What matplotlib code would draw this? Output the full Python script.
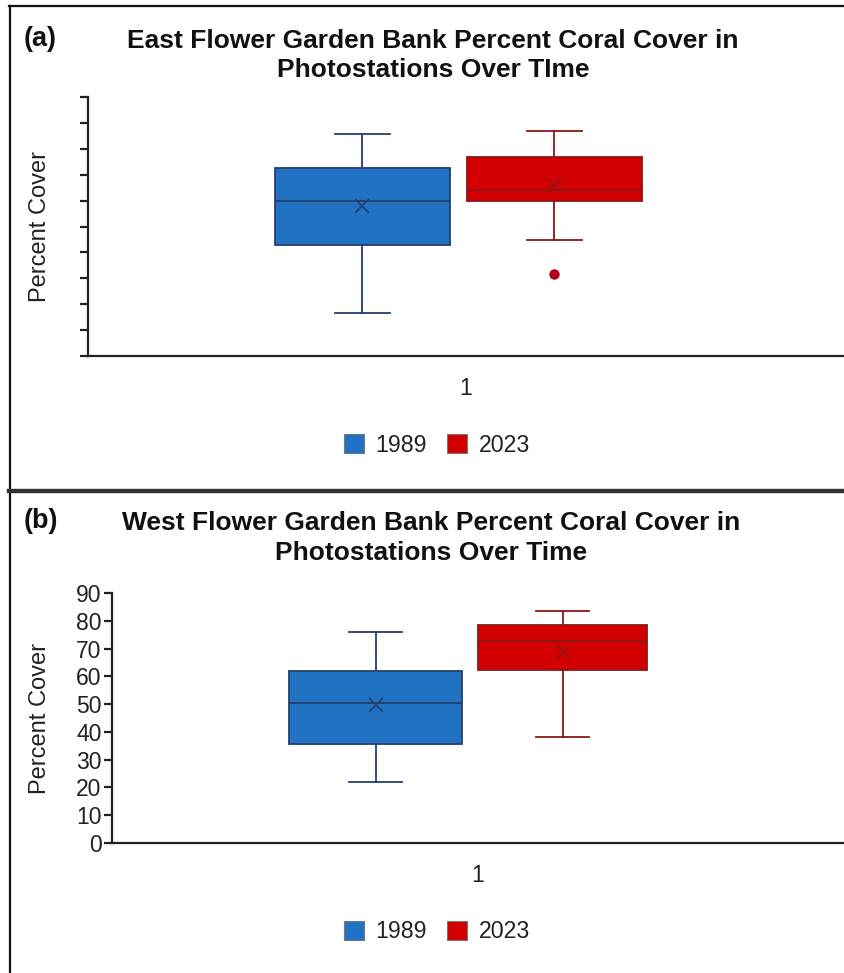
import matplotlib.pyplot as plt
from matplotlib.lines import Line2D
from matplotlib.patches import Patch

plt.rcParams['font.family'] = ['Liberation Sans', 'DejaVu Sans']

# legend / series
years = ["1989", "2023"]
box_colors = ["#2272C3", "#D20000"]
edge_colors = ["#24406E", "#8E1616"]

# East bank (panel a) - box stats (axis has no labels, 0-100 assumed)
east_low = [16.6, 44.8]
east_q1 = [42.9, 59.8]
east_med = [59.8, 64.1]
east_q3 = [72.6, 76.8]
east_high = [85.7, 86.9]
east_mean = [57.9, 66.0]
east_fliers = [[], [31.7]]

# West bank (panel b)
west_low = [21.9, 38.1]
west_q1 = [35.6, 62.2]
west_med = [50.4, 72.7]
west_q3 = [61.9, 78.4]
west_high = [75.9, 83.5]
west_mean = [49.6, 68.7]
west_fliers = [[], []]


def make_stats(low, q1, med, q3, high, mean, fliers):
    stats = []
    for i in range(len(low)):
        stats.append(dict(whislo=low[i], q1=q1[i], med=med[i], q3=q3[i],
                          whishi=high[i], mean=mean[i], fliers=fliers[i],
                          label=years[i]))
    return stats


def draw_panel(ax, stats, positions, widths, ymax, step):
    for i, st in enumerate(stats):
        ax.bxp([st], positions=[positions[i]], widths=[widths[i]],
               capwidths=[0.145], patch_artist=True, showmeans=True,
               boxprops=dict(facecolor=box_colors[i], edgecolor=edge_colors[i], linewidth=1.3),
               medianprops=dict(color=edge_colors[i], linewidth=1.3),
               whiskerprops=dict(color=edge_colors[i], linewidth=1.3),
               capprops=dict(color=edge_colors[i], linewidth=1.3),
               meanprops=dict(marker='x', markeredgecolor=edge_colors[i],
                              markersize=10, markeredgewidth=1.2),
               flierprops=dict(marker='o', markerfacecolor="#B0001E",
                               markeredgecolor="#B0001E", markersize=6.5))
    ax.set_xlim(0, 2)
    ax.set_ylim(0, ymax)
    ax.set_yticks(range(0, ymax + 1, step))
    ax.set_xticks([1])
    ax.set_xticklabels(["1"])
    for s in ["top", "right"]:
        ax.spines[s].set_visible(False)
    for s in ["left", "bottom"]:
        ax.spines[s].set_linewidth(1.6)
        ax.spines[s].set_color("#222222")
    ax.tick_params(axis='x', length=0, pad=15, labelsize=16.5, colors="#222222")
    ax.tick_params(axis='y', length=5.5, width=1.6, color="#222222", labelsize=16.5,
                   labelcolor="#222222", pad=2)
    ax.set_ylabel("Percent Cover", fontsize=17, color="#222222")


fig = plt.figure(figsize=(8.44, 9.73), dpi=100)

# panel a
ax1 = fig.add_axes([88 / 844, 1 - 356 / 973, 756 / 844, 259 / 973])
draw_panel(ax1, make_stats(east_low, east_q1, east_med, east_q3, east_high, east_mean, east_fliers),
           [0.726, 1.234], [0.461, 0.461], 100, 10)
ax1.set_yticklabels([])
ax1.yaxis.set_label_coords((51 - 88) / 756, 0.5)

# panel b
ax2 = fig.add_axes([112 / 844, 1 - 843 / 973, 732 / 844, 250 / 973])
draw_panel(ax2, make_stats(west_low, west_q1, west_med, west_q3, west_high, west_mean, west_fliers),
           [0.72, 1.231], [0.473, 0.46], 90, 10)
ax2.yaxis.set_label_coords((51 - 112) / 732, 0.5)

# titles
tkw = dict(ha='center', va='center', fontsize=19, fontweight='bold', color="#111111")
fig.text(433 / 844, 1 - 41 / 973, "East Flower Garden Bank Percent Coral Cover in", **tkw)
fig.text(433 / 844, 1 - 70 / 973, "Photostations Over TIme", **tkw)
fig.text(431 / 844, 1 - 523 / 973, "West Flower Garden Bank Percent Coral Cover in", **tkw)
fig.text(431 / 844, 1 - 553 / 973, "Photostations Over Time", **tkw)
fig.text(24 / 844, 1 - 39 / 973, "(a)", ha='left', va='center', fontsize=19.5,
         fontweight='bold', color="#111111")
fig.text(24 / 844, 1 - 521 / 973, "(b)", ha='left', va='center', fontsize=19.5,
         fontweight='bold', color="#111111")

# legends
handles = [Patch(facecolor=box_colors[i], edgecolor="#777777", linewidth=0.8, label=years[i])
           for i in range(len(years))]
for yc in [445, 932]:
    fig.legend(handles=handles, loc='center', bbox_to_anchor=(437 / 844, 1 - yc / 973),
               ncol=2, frameon=False, fontsize=16.7, handlelength=0.86, handleheight=0.86,
               handletextpad=0.5, columnspacing=0.86, labelcolor="#222222")

# frame lines
fig.add_artist(Line2D([9.5 / 844, 9.5 / 844], [0, 1 - 6 / 973], transform=fig.transFigure,
                      color="#111111", linewidth=1.6))
fig.add_artist(Line2D([9 / 844, 1], [1 - 6 / 973, 1 - 6 / 973], transform=fig.transFigure,
                      color="#111111", linewidth=1.6))
fig.add_artist(Line2D([9 / 844, 1], [1 - 491 / 973, 1 - 491 / 973], transform=fig.transFigure,
                      color="#333333", linewidth=3.2))

fig.savefig("out.png", dpi=100)
